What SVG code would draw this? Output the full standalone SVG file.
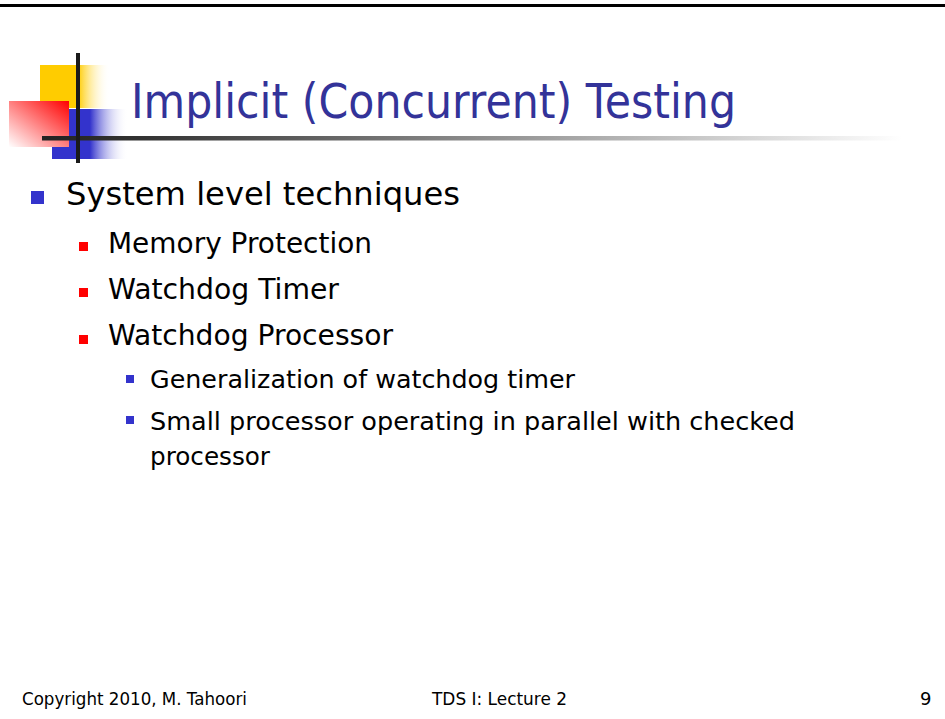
<svg xmlns="http://www.w3.org/2000/svg" width="945" height="719" viewBox="0 0 945 719">
  <style>
    text { font-family: "DejaVu Sans", "Noto Sans", "Liberation Sans", sans-serif; }
    .title { font-size: 48px; fill: #333399; }
    .l1 { font-size: 32px; fill: #000; }
    .l2 { font-size: 28px; fill: #000; }
    .l3 { font-size: 24px; fill: #000; }
    .foot { font-size: 18px; fill: #000; }
    .b1 { fill: #3333CC; }
    .b2 { fill: #FF0000; }
  </style>
  <defs>
    <linearGradient id="gYellow" x1="0" y1="0" x2="1" y2="0">
      <stop offset="0" stop-color="#FFCC00"/>
      <stop offset="0.54" stop-color="#FFCC00"/>
      <stop offset="1" stop-color="#FFFFFF" stop-opacity="0"/>
    </linearGradient>
    <linearGradient id="gBlue" x1="0" y1="0" x2="1" y2="0">
      <stop offset="0" stop-color="#3333CC"/>
      <stop offset="0.5" stop-color="#3333CC"/>
      <stop offset="1" stop-color="#FFFFFF" stop-opacity="0"/>
    </linearGradient>
    <linearGradient id="gRed" x1="1" y1="0" x2="0" y2="1">
      <stop offset="0" stop-color="#FF0000"/>
      <stop offset="1" stop-color="#FFFFFF"/>
    </linearGradient>
    <linearGradient id="gLine" x1="0" y1="0" x2="1" y2="0">
      <stop offset="0" stop-color="#222222"/>
      <stop offset="0.12" stop-color="#333333"/>
      <stop offset="1" stop-color="#FFFFFF"/>
    </linearGradient>
  </defs>

  <rect x="0" y="0" width="945" height="719" fill="#FFFFFF"/>
  <rect id="topRule" x="0" y="4" width="945" height="3" fill="#000"/>

  <g id="logo">
    <rect x="40" y="65" width="70" height="43" fill="url(#gYellow)"/>
    <rect x="52" y="109" width="76" height="50" fill="url(#gBlue)"/>
    <rect x="9" y="101" width="60" height="46" fill="url(#gRed)"/>
    <rect x="42" y="136" width="860" height="4.5" fill="url(#gLine)"/>
    <rect x="76" y="53" width="4" height="110" fill="#1a1a1a"/>
  </g>

  <g id="title">
    <text class="title" x="131" y="118" textLength="605" lengthAdjust="spacingAndGlyphs">Implicit (Concurrent) Testing</text>
  </g>

  <g id="level1">
    <rect class="b1" x="31" y="191" width="13" height="13"/>
    <text class="l1" x="66" y="205" textLength="394" lengthAdjust="spacingAndGlyphs">System level techniques</text>
  </g>

  <g id="level2">
    <rect class="b2" x="79" y="242" width="9" height="9"/>
    <text class="l2" x="108" y="253" textLength="264" lengthAdjust="spacingAndGlyphs">Memory Protection</text>
    <rect class="b2" x="79" y="288" width="9" height="9"/>
    <text class="l2" x="108" y="299" textLength="231" lengthAdjust="spacingAndGlyphs">Watchdog Timer</text>
    <rect class="b2" x="79" y="335" width="9" height="9"/>
    <text class="l2" x="108" y="345" textLength="285" lengthAdjust="spacingAndGlyphs">Watchdog Processor</text>
  </g>

  <g id="level3">
    <rect class="b1" x="126" y="375" width="8" height="8"/>
    <text class="l3" x="150" y="388" textLength="425" lengthAdjust="spacingAndGlyphs">Generalization of watchdog timer</text>
    <rect class="b1" x="126" y="416" width="8" height="8"/>
    <text class="l3" x="150" y="430" textLength="645" lengthAdjust="spacingAndGlyphs">Small processor operating in parallel with checked</text>
    <text class="l3" x="150" y="465" textLength="120" lengthAdjust="spacingAndGlyphs">processor</text>
  </g>

  <g id="footer">
    <text class="foot" x="22" y="705" textLength="225" lengthAdjust="spacingAndGlyphs">Copyright 2010, M. Tahoori</text>
    <text class="foot" x="432" y="705" textLength="135" lengthAdjust="spacingAndGlyphs">TDS I: Lecture 2</text>
    <text class="foot" x="920" y="705">9</text>
  </g>
</svg>
